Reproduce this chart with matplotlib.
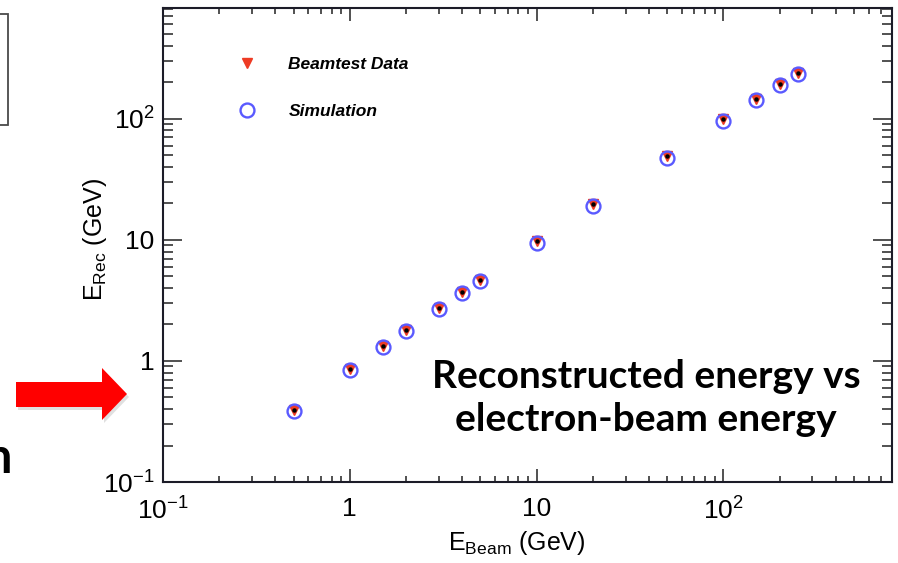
import matplotlib
matplotlib.use("Agg")
import matplotlib.pyplot as plt
from matplotlib.patches import Polygon, Rectangle
from matplotlib.ticker import FixedLocator, FixedFormatter, LogLocator, NullFormatter
from matplotlib.lines import Line2D

plt.rcParams["font.family"] = ["Liberation Sans", "DejaVu Sans"]
plt.rcParams["mathtext.fontset"] = "custom"
plt.rcParams["mathtext.rm"] = "Liberation Sans"
plt.rcParams["mathtext.it"] = "Liberation Sans:italic"
plt.rcParams["mathtext.default"] = "regular"

# beam energies (GeV) and reconstructed energies
E_BEAM = [0.5, 1, 1.5, 2, 3, 4, 5, 10, 20, 50, 100, 150, 200, 250]
E_SIM = [0.386, 0.838, 1.29, 1.75, 2.66, 3.61, 4.58, 9.34, 19.0, 47.6, 96.3, 143, 191, 234]
E_DATA = [0.395, 0.855, 1.32, 1.79, 2.72, 3.70, 4.69, 9.85, 19.6, 48.8, 98.5, 146, 195, 239]

TICKS = [0.1, 1, 10, 100]
TICK_LABELS = [r"$10^{-1}$", "1", "10", r"$10^{2}$"]

W, H = 898, 563
fig = plt.figure(figsize=(W / 100, H / 100), dpi=100)


def fx(px):
    return px / W


def fy(py):
    return 1 - py / H


ax = fig.add_axes([fx(163), fy(482), fx(892) - fx(163), fy(8) - fy(482)])
ax.set_xscale("log")
ax.set_yscale("log")
ax.set_xlim(0.1, 800)
ax.set_ylim(0.1, 820)

ax.plot(E_BEAM, E_DATA, linestyle="none", marker="v", ms=7.5,
        color="#ee3b24", mec="#ee3b24")
ax.plot(E_BEAM, E_SIM, linestyle="none", marker="o", ms=10,
        mfc="none", mec="#5a5aff", mew=1.7)
ax.plot(E_BEAM, E_DATA, linestyle="none", marker="o", ms=2.2, color="black")

for axis in (ax.xaxis, ax.yaxis):
    axis.set_major_locator(FixedLocator(TICKS))
    axis.set_major_formatter(FixedFormatter(TICK_LABELS))
    axis.set_minor_locator(LogLocator(base=10, subs=range(2, 10), numticks=20))
    axis.set_minor_formatter(NullFormatter())

ax.tick_params(which="both", direction="in", top=True, right=True,
               color="#222222", width=1.1, labelsize=19)
ax.tick_params(axis="x", which="major", length=9.5, pad=11)
ax.tick_params(axis="x", which="minor", length=4.5)
ax.tick_params(axis="y", which="major", length=14, pad=6)
ax.tick_params(axis="y", which="minor", length=7)
for sp in ax.spines.values():
    sp.set_linewidth(1.5)
    sp.set_color("#1c1c28")

fig.text(fx(517), fy(543), r"$\mathregular{E_{Beam}}$ (GeV)", fontsize=18,
         ha="center", va="center")
fig.text(fx(95), fy(240), r"$\mathregular{E_{Rec}}$ (GeV)", fontsize=18,
         ha="center", va="center", rotation=90)

handles = [
    Line2D([], [], linestyle="none", marker="v", ms=7.5, color="#ee3b24"),
    Line2D([], [], linestyle="none", marker="o", ms=10, mfc="none",
           mec="#5a5aff", mew=1.7),
]
ax.legend(handles, ["Beamtest Data", "Simulation"], loc="upper left",
          bbox_to_anchor=(fx(226 - 163) * W / 729, 1 - (48 - 8) / 474),
          frameon=False, borderpad=0, handlelength=1.4, handletextpad=1.7,
          labelspacing=1.85,
          prop={"family": "Liberation Sans", "weight": "bold",
                "style": "italic", "size": 12.5})

fig.text(fx(646), fy(398), "Reconstructed energy vs\nelectron-beam energy",
         fontsize=28, fontweight="bold", family=["Lato", "DejaVu Sans"],
         ha="center", va="center", linespacing=1.3)

# slide elements around the chart
arrow = [(16, 382), (102, 382), (102, 368), (127, 394),
         (102, 420), (102, 407), (16, 407)]
shadow = Polygon([(fx(x + 2), fy(y + 3)) for x, y in arrow],
                 closed=True, transform=fig.transFigure,
                 facecolor="#000000", alpha=0.12, edgecolor="none")
fig.add_artist(shadow)
fig.add_artist(Polygon([(fx(x), fy(y)) for x, y in arrow], closed=True,
                       transform=fig.transFigure, facecolor="#ff0000",
                       edgecolor="none"))
fig.add_artist(Rectangle((fx(-10), fy(125)), fx(17.5), fy(14) - fy(125),
                         transform=fig.transFigure, facecolor="none",
                         edgecolor="#4a4a4a", linewidth=1.3))
# last letter of a slide word cut off at the left edge, as in the reference
fig.text(fx(13), fy(473), "n", fontsize=35, fontweight="bold",
         family=["Lato", "DejaVu Sans"], ha="right", va="baseline")

fig.savefig("out.png", dpi=100)
